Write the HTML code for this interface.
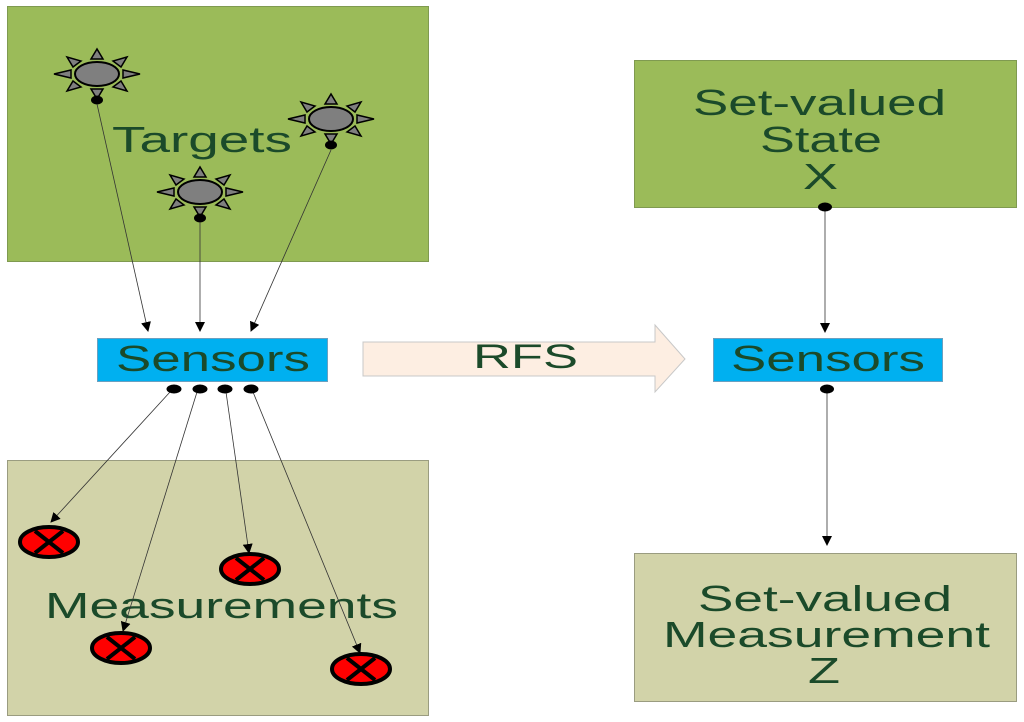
<!DOCTYPE html>
<html><head><meta charset="utf-8"><style>
html,body{margin:0;padding:0;background:#fff;}
svg{display:block;}
text{font-family:"Liberation Sans",sans-serif;fill:#1b4a2a;}
</style></head><body>
<svg width="1024" height="722" viewBox="0 0 1024 722" xmlns="http://www.w3.org/2000/svg">
<defs>
<marker id="ah" markerWidth="10" markerHeight="10" refX="9" refY="5" orient="auto" markerUnits="userSpaceOnUse">
<path d="M0,0 L10,5 L0,10 Z" fill="#000"/>
</marker>
<g id="sun">
<g fill="#7f7f7f" stroke="#000" stroke-width="1.5">
<polygon points="-6,-15 6,-15 0,-25"/>
<polygon points="-6,15 6,15 0,25"/>
<polygon points="26,-4 26,4 43,0"/>
<polygon points="-26,-4 -26,4 -43,0"/>
<polygon points="16,-13 24,-7 30,-17"/>
<polygon points="-16,-13 -24,-7 -30,-17"/>
<polygon points="16,13 24,7 30,17"/>
<polygon points="-16,13 -24,7 -30,17"/>
<ellipse cx="0" cy="0" rx="22" ry="12" stroke-width="2"/>
</g>
<ellipse cx="0" cy="26" rx="6" ry="4.5" fill="#000"/>
</g>
<g id="meas">
<ellipse cx="0" cy="0" rx="29" ry="15" fill="#ff0000" stroke="#000" stroke-width="4"/>
<line x1="-14" y1="-11" x2="14" y2="11" stroke="#000" stroke-width="4"/>
<line x1="-14" y1="11" x2="14" y2="-11" stroke="#000" stroke-width="4"/>
</g>
</defs>

<!-- Boxes -->
<rect x="7.5" y="6.5" width="421" height="255" fill="#9bbb59" stroke="#7f9a50"/>
<rect x="7.5" y="460.5" width="421" height="255" fill="#d2d3a9" stroke="#9a9c80"/>
<rect x="634.5" y="60.5" width="382" height="147" fill="#9bbb59" stroke="#7f9a50"/>
<rect x="634.5" y="553.5" width="382" height="148" fill="#d2d3a9" stroke="#9a9c80"/>
<rect x="97.5" y="338.5" width="230" height="43" fill="#00b0f0" stroke="#6aa0c0"/>
<rect x="713.5" y="338.5" width="229" height="43" fill="#00b0f0" stroke="#6aa0c0"/>

<!-- RFS arrow -->
<polygon points="363,342 655,342 655,325 685,359 655,392 655,376 363,376" fill="#fdeee2" stroke="#c8c8c8"/>

<!-- Text -->
<text x="112" y="152" font-size="36" textLength="180" lengthAdjust="spacingAndGlyphs">Targets</text>
<text x="116" y="371" font-size="36" textLength="194" lengthAdjust="spacingAndGlyphs">Sensors</text>
<text x="473" y="368" font-size="34" textLength="105" lengthAdjust="spacingAndGlyphs">RFS</text>
<text x="731" y="371" font-size="36" textLength="194" lengthAdjust="spacingAndGlyphs">Sensors</text>
<text x="45" y="618" font-size="36" textLength="353" lengthAdjust="spacingAndGlyphs">Measurements</text>
<text x="693" y="115" font-size="36" textLength="253" lengthAdjust="spacingAndGlyphs">Set-valued</text>
<text x="760" y="152" font-size="36" textLength="122" lengthAdjust="spacingAndGlyphs">State</text>
<text x="803" y="189" font-size="36" textLength="35" lengthAdjust="spacingAndGlyphs">X</text>
<text x="698" y="611" font-size="36" textLength="254" lengthAdjust="spacingAndGlyphs">Set-valued</text>
<text x="663" y="647" font-size="36" textLength="327" lengthAdjust="spacingAndGlyphs">Measurement</text>
<text x="808" y="683" font-size="36" textLength="32" lengthAdjust="spacingAndGlyphs">Z</text>

<!-- Suns -->
<use href="#sun" x="97" y="74"/>
<use href="#sun" x="331" y="119"/>
<use href="#sun" x="200" y="192"/>

<!-- Measurements -->
<use href="#meas" x="49" y="542"/>
<use href="#meas" x="250" y="569"/>
<use href="#meas" x="121" y="648"/>
<use href="#meas" x="361" y="669"/>

<!-- Connectors -->
<g stroke="#333" stroke-width="0.8" fill="none" marker-end="url(#ah)">
<line x1="97" y1="104" x2="148" y2="331"/>
<line x1="200" y1="222" x2="200" y2="331"/>
<line x1="331" y1="150" x2="251" y2="331"/>
<line x1="170" y1="392" x2="51" y2="522"/>
<line x1="197" y1="392" x2="123" y2="631"/>
<line x1="226" y1="392" x2="249" y2="553"/>
<line x1="253" y1="392" x2="360" y2="653"/>
<line x1="825" y1="211" x2="825" y2="332"/>
<line x1="827" y1="393" x2="827" y2="545"/>
</g>
<g fill="#000">
<ellipse cx="174" cy="389" rx="7.5" ry="4.5"/>
<ellipse cx="200" cy="389" rx="7.5" ry="4.5"/>
<ellipse cx="225" cy="389" rx="7.5" ry="4.5"/>
<ellipse cx="251" cy="389" rx="7.5" ry="4.5"/>
<ellipse cx="825" cy="207" rx="7" ry="4.5"/>
<ellipse cx="827" cy="389" rx="7" ry="4.5"/>
</g>
</svg>
</body></html>
